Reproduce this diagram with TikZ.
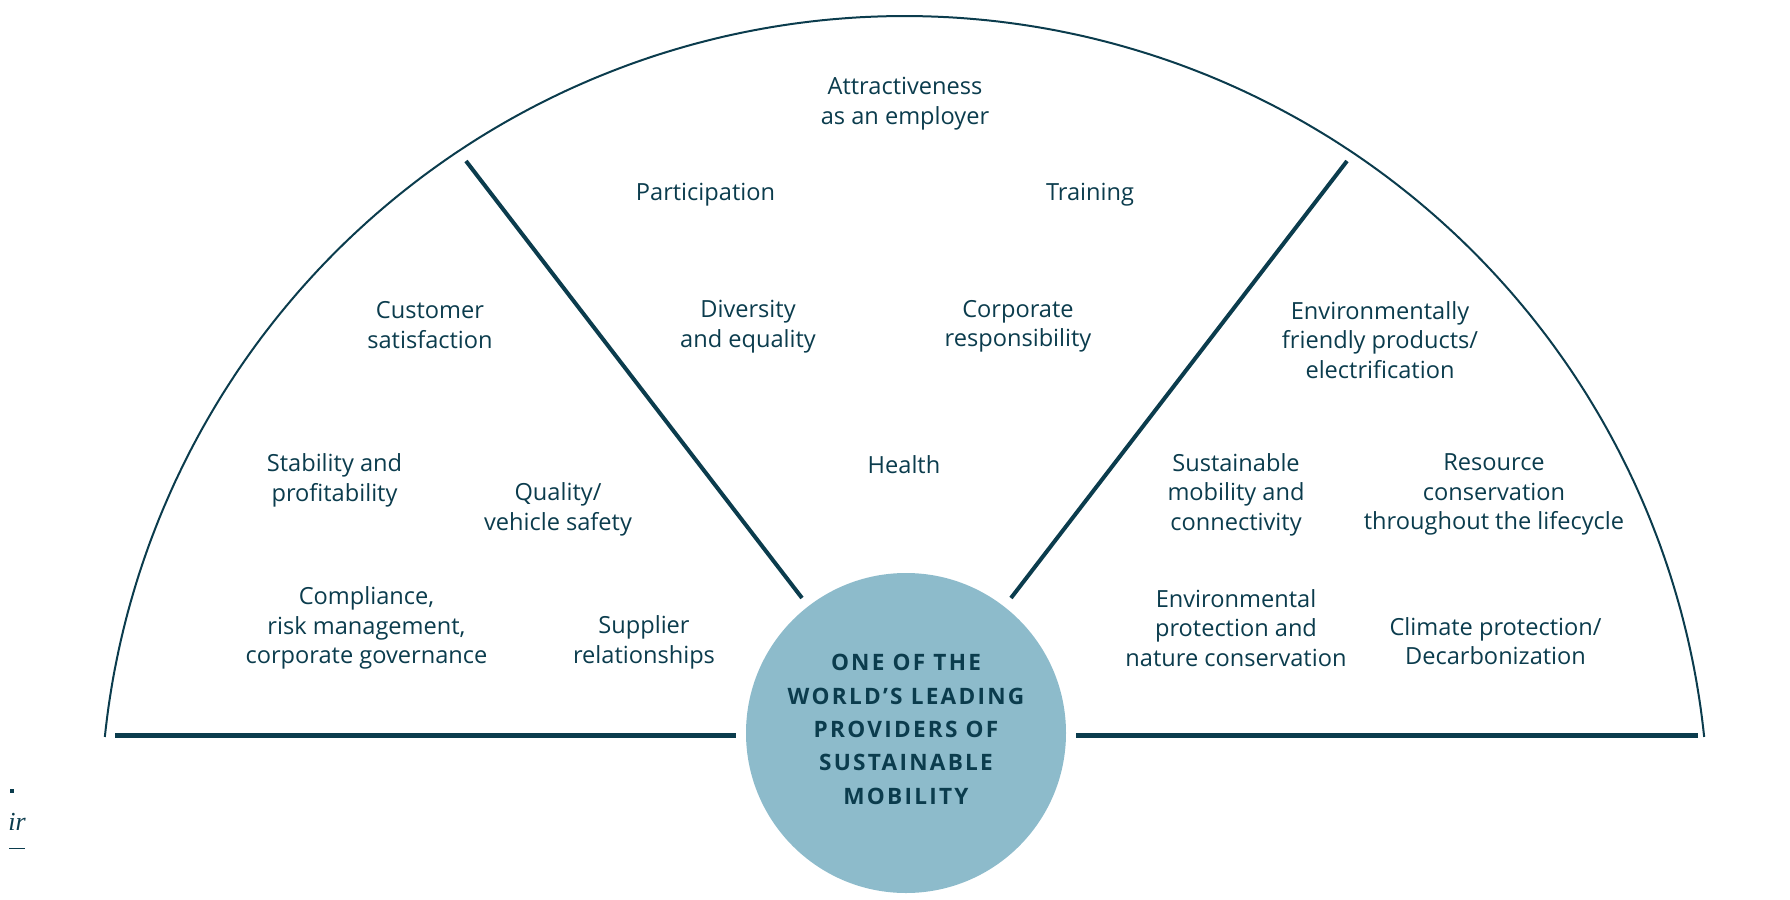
\documentclass[tikz,border=0pt]{standalone}
\usepackage{fontspec}
\setmainfont{Open Sans}
\newfontfamily\serifit{Liberation Serif}
\definecolor{vwdark}{HTML}{0B3C4D}
\definecolor{vwlight}{HTML}{8DBBCB}
\begin{document}
\begin{tikzpicture}[x=0.5pt,y=-0.5pt,
  lbl/.style={text=vwdark, align=center, inner sep=0pt, font=\fontsize{11.8}{14.7}\selectfont},
  hub/.style={circle, fill=vwlight, draw=none, minimum size=160pt, inner sep=0pt},
  hubtext/.style={align=center, inner sep=0pt, text=vwdark,
    font=\fontsize{11.3}{16.7}\selectfont\bfseries\addfontfeatures{LetterSpace=10}},
  rimline/.style={draw=vwdark, line width=1pt},
  divider/.style={draw=vwdark, line width=2pt},
  baseline/.style={draw=vwdark, line width=2.5pt}]
\useasboundingbox (0,0) rectangle (1790,900);
% outer arc
\draw[rimline] plot[domain=185.93:354.07, samples=240] ({904.5+804*cos(\x)},{820+804*sin(\x)});
% base lines
\coordinate (bl1) at (115,735.5);
\coordinate (bl2) at (736,735.5);
\coordinate (br1) at (1076,735.5);
\coordinate (br2) at (1698,735.5);
\draw[baseline] (bl1) -- (bl2);
\draw[baseline] (br1) -- (br2);
% dividers
\coordinate (dl1) at (466,161);
\coordinate (dl2) at (802,598);
\coordinate (dr1) at (1347,161);
\coordinate (dr2) at (1011,598);
\draw[divider] (dl1) -- (dl2);
\draw[divider] (dr1) -- (dr2);
% hub
\node[hub] (hub) at (906,733) {};
\node[hubtext] (hubtxt) at (906,729.5) {ONE OF THE\\WORLD’S LEADING\\PROVIDERS OF\\SUSTAINABLE\\MOBILITY};
% labels
\node[lbl] (attr) at (905,103.5) {Attractiveness\\as an employer};
\node[lbl] (part) at (705.5,194.5) {Participation};
\node[lbl] (train) at (1090,194.5) {Training};
\node[lbl] (cust) at (430,325) {Customer\\satisfaction};
\node[lbl] (div) at (748,326.5) {Diversity\\and equality};
\node[lbl] (corp) at (1018,326.5) {Corporate\\responsibility};
\node[lbl] (env) at (1380,340) {Environmentally\\friendly products/\\electrification};
\node[lbl] (stab) at (334.5,480.5) {Stability and\\profitability};
\node[lbl] (qual) at (558,509.5) {Quality/\\vehicle safety};
\node[lbl] (health) at (904,465) {Health};
\node[lbl] (sust) at (1236,494.5) {Sustainable\\mobility and\\connectivity};
\node[lbl] (res) at (1494,494.5) {Resource\\conservation\\throughout the lifecycle};
\node[lbl] (comp) at (366.5,628) {Compliance,\\risk management,\\corporate governance};
\node[lbl] (supp) at (644,642.5) {Supplier\\relationships};
\node[lbl] (envp) at (1236,628) {Environmental\\protection and\\nature conservation};
\node[lbl] (clim) at (1495.5,641) {Climate protection/\\Decarbonization};
% page-edge fragments
\node[fill=vwdark, minimum size=2pt, inner sep=0pt] (dot) at (12,790.5) {};
\node[text=vwdark, inner sep=0pt, font=\serifit\itshape\fontsize{13}{13}\selectfont] (frag) at (17,822) {ir};
\coordinate (u1) at (9,848);
\coordinate (u2) at (25,848);
\draw[vwdark, line width=0.5pt] (u1) -- (u2);
\end{tikzpicture}
\end{document}
